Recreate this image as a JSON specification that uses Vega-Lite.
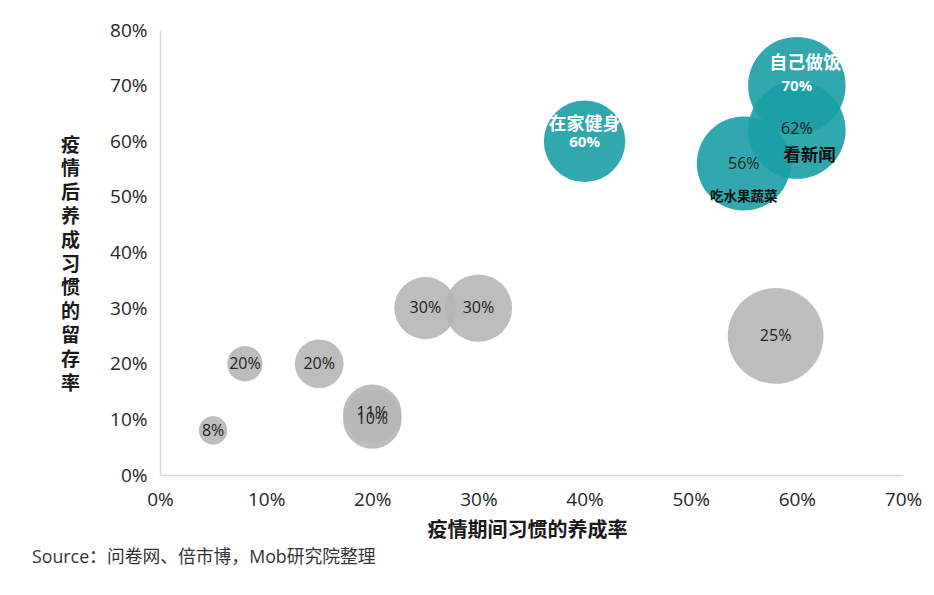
{
  "$schema": "https://vega.github.io/schema/vega-lite/v6.json",
  "width": 743,
  "height": 445,
  "autosize": {"type": "none"},
  "padding": {"left": 160, "top": 30, "right": 31, "bottom": 120},
  "background": "white",
  "title": {
    "text": "Source：问卷网、倍市博，Mob研究院整理",
    "orient": "bottom",
    "anchor": "start",
    "frame": "group",
    "dx": -128,
    "offset": 9,
    "fontSize": 17.8,
    "fontWeight": "normal",
    "color": "#333333",
    "font": "Open Sans, Noto Sans CJK SC"
  },
  "datasets": {
    "bubbles": [
      {"habit": "b1", "x": 5, "y": 8, "weight": 256, "group": "gray"},
      {"habit": "b2", "x": 8, "y": 20, "weight": 400, "group": "gray"},
      {"habit": "b3", "x": 15, "y": 20, "weight": 756, "group": "gray"},
      {"habit": "b4", "x": 20, "y": 11, "weight": 1089, "group": "gray"},
      {"habit": "b5", "x": 20, "y": 10, "weight": 1089, "group": "gray"},
      {"habit": "b6", "x": 25, "y": 30, "weight": 1225, "group": "gray"},
      {"habit": "b7", "x": 30, "y": 30, "weight": 1444, "group": "gray"},
      {"habit": "b8", "x": 58, "y": 25, "weight": 2916, "group": "gray"},
      {"habit": "在家健身", "x": 40, "y": 60, "weight": 2116, "group": "teal"},
      {"habit": "吃水果蔬菜", "x": 55, "y": 56, "weight": 2809, "group": "teal"},
      {"habit": "看新闻", "x": 60, "y": 62, "weight": 3025, "group": "teal"},
      {"habit": "自己做饭", "x": 60, "y": 70, "weight": 3025, "group": "teal"}
    ],
    "labels": [
      {"t": "8%", "x": 5, "y": 8, "kind": "pct"},
      {"t": "20%", "x": 8, "y": 20, "kind": "pct"},
      {"t": "20%", "x": 15, "y": 20, "kind": "pct"},
      {"t": "11%", "x": 20, "y": 11.1, "kind": "pct"},
      {"t": "10%", "x": 20, "y": 10, "kind": "pct"},
      {"t": "30%", "x": 25, "y": 30, "kind": "pct"},
      {"t": "30%", "x": 30, "y": 30, "kind": "pct"},
      {"t": "25%", "x": 58, "y": 25, "kind": "pct"},
      {"t": "62%", "x": 60, "y": 62.2, "kind": "pct"},
      {"t": "56%", "x": 55, "y": 56, "kind": "pct"},
      {"t": "看新闻", "x": 61.2, "y": 57.4, "kind": "dname"},
      {"t": "吃水果蔬菜", "x": 55, "y": 50, "kind": "sname"},
      {"t": "自己做饭", "x": 60.8, "y": 73.9, "kind": "wname"},
      {"t": "在家健身", "x": 40, "y": 62.9, "kind": "wname"},
      {"t": "70%", "x": 60, "y": 70, "kind": "wpct"},
      {"t": "60%", "x": 40, "y": 59.8, "kind": "wpct"}
    ]
  },
  "encoding": {
    "x": {
      "field": "x",
      "type": "quantitative",
      "scale": {"domain": [0, 70], "nice": false},
      "axis": {
        "values": [0, 10, 20, 30, 40, 50, 60, 70],
        "labelExpr": "datum.value + '%'",
        "title": "疫情期间习惯的养成率",
        "titleX": 367,
        "titleY": 55,
        "titleBaseline": "middle",
        "titleFontSize": 20,
        "titleFontWeight": "bold",
        "titleColor": "#1a1a1a",
        "labelPadding": 15,
        "grid": false,
        "ticks": false
      }
    },
    "y": {
      "field": "y",
      "type": "quantitative",
      "scale": {"domain": [0, 80], "nice": false},
      "axis": {
        "values": [0, 10, 20, 30, 40, 50, 60, 70, 80],
        "labelExpr": "datum.value + '%'",
        "title": ["疫", "情", "后", "养", "成", "习", "惯", "的", "留", "存", "率"],
        "titleAngle": 0,
        "titleX": -90,
        "titleY": 115,
        "titleAlign": "center",
        "titleBaseline": "middle",
        "titleLineHeight": 23.8,
        "titleFontSize": 19,
        "titleFontWeight": "bold",
        "titleColor": "#1a1a1a",
        "labelPadding": 13,
        "grid": false,
        "ticks": false
      }
    }
  },
  "layer": [
    {
      "data": {"name": "bubbles"},
      "mark": {"type": "circle", "opacity": 0.9, "strokeWidth": 0},
      "encoding": {
        "size": {
          "field": "weight",
          "type": "quantitative",
          "scale": {"domain": [0, 3025], "range": [0, 9503], "zero": true},
          "legend": null
        },
        "color": {
          "field": "group",
          "type": "nominal",
          "scale": {"domain": ["gray", "teal"], "range": ["#b6b6b6", "#1a9fa4"]},
          "legend": null
        }
      }
    },
    {
      "data": {"name": "labels"},
      "transform": [{"filter": "datum.kind == 'pct'"}],
      "mark": {"type": "text", "fontSize": 16, "color": "#222222", "baseline": "middle", "font": "Open Sans, Noto Sans CJK SC"},
      "encoding": {"text": {"field": "t"}}
    },
    {
      "data": {"name": "labels"},
      "transform": [{"filter": "datum.kind == 'dname'"}],
      "mark": {"type": "text", "fontSize": 17.5, "fontWeight": "bold", "color": "#111111", "baseline": "middle", "font": "Noto Sans CJK SC"},
      "encoding": {"text": {"field": "t"}}
    },
    {
      "data": {"name": "labels"},
      "transform": [{"filter": "datum.kind == 'sname'"}],
      "mark": {"type": "text", "fontSize": 13.5, "fontWeight": "bold", "color": "#111111", "baseline": "middle", "font": "Noto Sans CJK SC"},
      "encoding": {"text": {"field": "t"}}
    },
    {
      "data": {"name": "labels"},
      "transform": [{"filter": "datum.kind == 'wname'"}],
      "mark": {"type": "text", "fontSize": 18, "fontWeight": "bold", "color": "white", "baseline": "middle", "font": "Noto Sans CJK SC"},
      "encoding": {"text": {"field": "t"}}
    },
    {
      "data": {"name": "labels"},
      "transform": [{"filter": "datum.kind == 'wpct'"}],
      "mark": {"type": "text", "fontSize": 15, "fontWeight": "bold", "color": "white", "baseline": "middle", "font": "Open Sans, Noto Sans CJK SC"},
      "encoding": {"text": {"field": "t"}}
    }
  ],
  "config": {
    "view": {"stroke": null},
    "font": "Open Sans, Noto Sans CJK SC",
    "axis": {
      "domainColor": "#d9d9d9",
      "domainWidth": 1.5,
      "labelFontSize": 19,
      "labelFlush": false,
      "labelColor": "#262626",
      "labelFont": "Open Sans",
      "titleFont": "Noto Sans CJK SC"
    }
  }
}
